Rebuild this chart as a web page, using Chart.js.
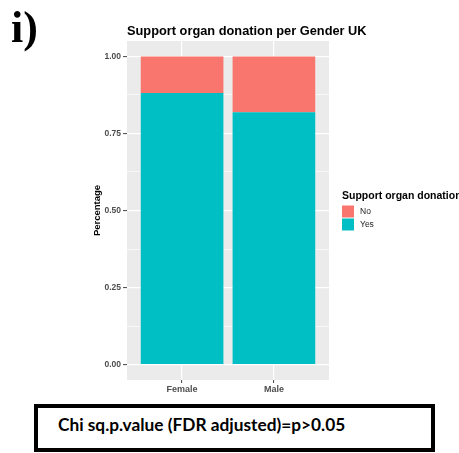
<!DOCTYPE html>
<html>
<head>
<meta charset="utf-8">
<script src="https://cdn.jsdelivr.net/npm/chart.js@4/dist/chart.umd.min.js"></script>
<style>
  html, body { margin: 0; padding: 0; background: #fff; width: 459px; height: 453px; overflow: hidden; }
  #wrap { position: relative; width: 459px; height: 453px; }
  #chart { position: absolute; left: 0; top: 0; }
  #note {
    position: absolute; left: 34px; top: 404px; width: 393px; height: 40px;
    border: 4.5px solid #000; box-sizing: content-box;
    font-family: Lato, "Open Sans", sans-serif; font-weight: bold; font-size: 17.3px;
    color: #000;
  }
  #note span { position: absolute; left: 20px; top: 6px; }
</style>
</head>
<body>
<div id="wrap">
  <canvas id="chart" width="459" height="400"></canvas>
  <div id="note"><span>Chi sq.p.value (FDR adjusted)=p&gt;0.05</span></div>
</div>
<script>
// data
const categories = ['Female', 'Male'];
const yesShare = [0.881, 0.819];
const noShare = [0.119, 0.181];
const majorTicks = [0, 0.25, 0.5, 0.75, 1];
const minorTicks = [0.125, 0.375, 0.625, 0.875];
const seriesNames = ['No', 'Yes'];
const seriesColors = { No: '#F8766D', Yes: '#00BFC4' };

const toPoints = vals => vals.map((v, i) => ({ x: i + 1, y: v }));

// grey panel behind the bars, plus plot title, panel tag and legend
const decor = {
  id: 'decor',
  beforeDraw(chart) {
    const { ctx, chartArea: a } = chart;
    ctx.save();
    ctx.fillStyle = '#EBEBEB';
    ctx.fillRect(a.left, a.top, a.right - a.left, a.bottom - a.top);
    ctx.restore();
  },
  afterDraw(chart) {
    const { ctx, chartArea: a } = chart;
    ctx.save();
    ctx.fillStyle = '#000';
    ctx.textBaseline = 'alphabetic';
    ctx.font = 'bold 44px "Liberation Serif", serif';
    ctx.fillText('i)', 11, 42);

    ctx.font = 'bold 12.8px "Liberation Sans", Arial, sans-serif';
    ctx.fillText('Support organ donation per Gender UK', a.left, 35);

    // legend
    const lx = a.right + 13;
    ctx.font = 'bold 10.5px "Liberation Sans", Arial, sans-serif';
    ctx.fillText('Support organ donation', lx, 199);
    ctx.font = '8.5px "Liberation Sans", Arial, sans-serif';
    seriesNames.forEach((name, i) => {
      const ky = 205.5 + i * 13;
      ctx.fillStyle = seriesColors[name];
      ctx.fillRect(lx, ky, 12, 12);
      ctx.fillStyle = '#222';
      ctx.textBaseline = 'middle';
      ctx.fillText(name, lx + 18, ky + 6);
    });
    ctx.restore();
  }
};

const gridWidth = ctx => (majorTicks.includes(ctx.tick.value) ? 1.2 : 0.6);

new Chart(document.getElementById('chart').getContext('2d'), {
  type: 'bar',
  data: {
    datasets: [
      { label: 'Yes', data: toPoints(yesShare), backgroundColor: seriesColors.Yes },
      { label: 'No', data: toPoints(noShare), backgroundColor: seriesColors.No }
    ]
  },
  options: {
    responsive: false,
    animation: false,
    categoryPercentage: 1,
    barPercentage: 0.9,
    layout: { padding: { left: 88, top: 41, right: 130, bottom: 0 } },
    plugins: { legend: { display: false }, tooltip: { enabled: false } },
    scales: {
      x: {
        type: 'linear',
        stacked: true,
        offset: false,
        min: 0.4,
        max: 2.6,
        afterBuildTicks: s => { s.ticks = categories.map((c, i) => ({ value: i + 1 })); },
        afterFit: s => { s.height = 20; },
        border: { display: false },
        grid: { offset: false, color: '#FFFFFF', lineWidth: 1.2, tickColor: '#444', tickLength: 3, tickWidth: 1 },
        ticks: {
          autoSkip: false,
          maxRotation: 0,
          padding: 1,
          color: '#4D4D4D',
          font: { family: '"Liberation Sans", Arial, sans-serif', size: 9, weight: 'bold' },
          callback: v => categories[v - 1]
        }
      },
      y: {
        stacked: true,
        min: -0.05,
        max: 1.05,
        afterBuildTicks: s => {
          s.ticks = majorTicks.concat(minorTicks).sort((p, q) => p - q).map(v => ({ value: v }));
        },
        afterFit: s => { s.width = 39; },
        border: { display: false },
        grid: {
          color: '#FFFFFF',
          lineWidth: gridWidth,
          tickLength: 4,
          tickWidth: 1,
          tickColor: ctx => (majorTicks.includes(ctx.tick.value) ? '#444' : 'rgba(0,0,0,0)')
        },
        ticks: {
          autoSkip: false,
          padding: 2,
          color: '#4D4D4D',
          font: { family: '"Liberation Sans", Arial, sans-serif', size: 8.5, weight: 'bold' },
          callback: v => (majorTicks.includes(v) ? v.toFixed(2) : '')
        },
        title: {
          display: true,
          text: 'Percentage',
          color: '#000',
          padding: { top: 4, bottom: 0 },
          font: { family: '"Liberation Sans", Arial, sans-serif', size: 9.5, weight: 'bold' }
        }
      }
    }
  },
  plugins: [decor]
});
</script>
</body>
</html>
